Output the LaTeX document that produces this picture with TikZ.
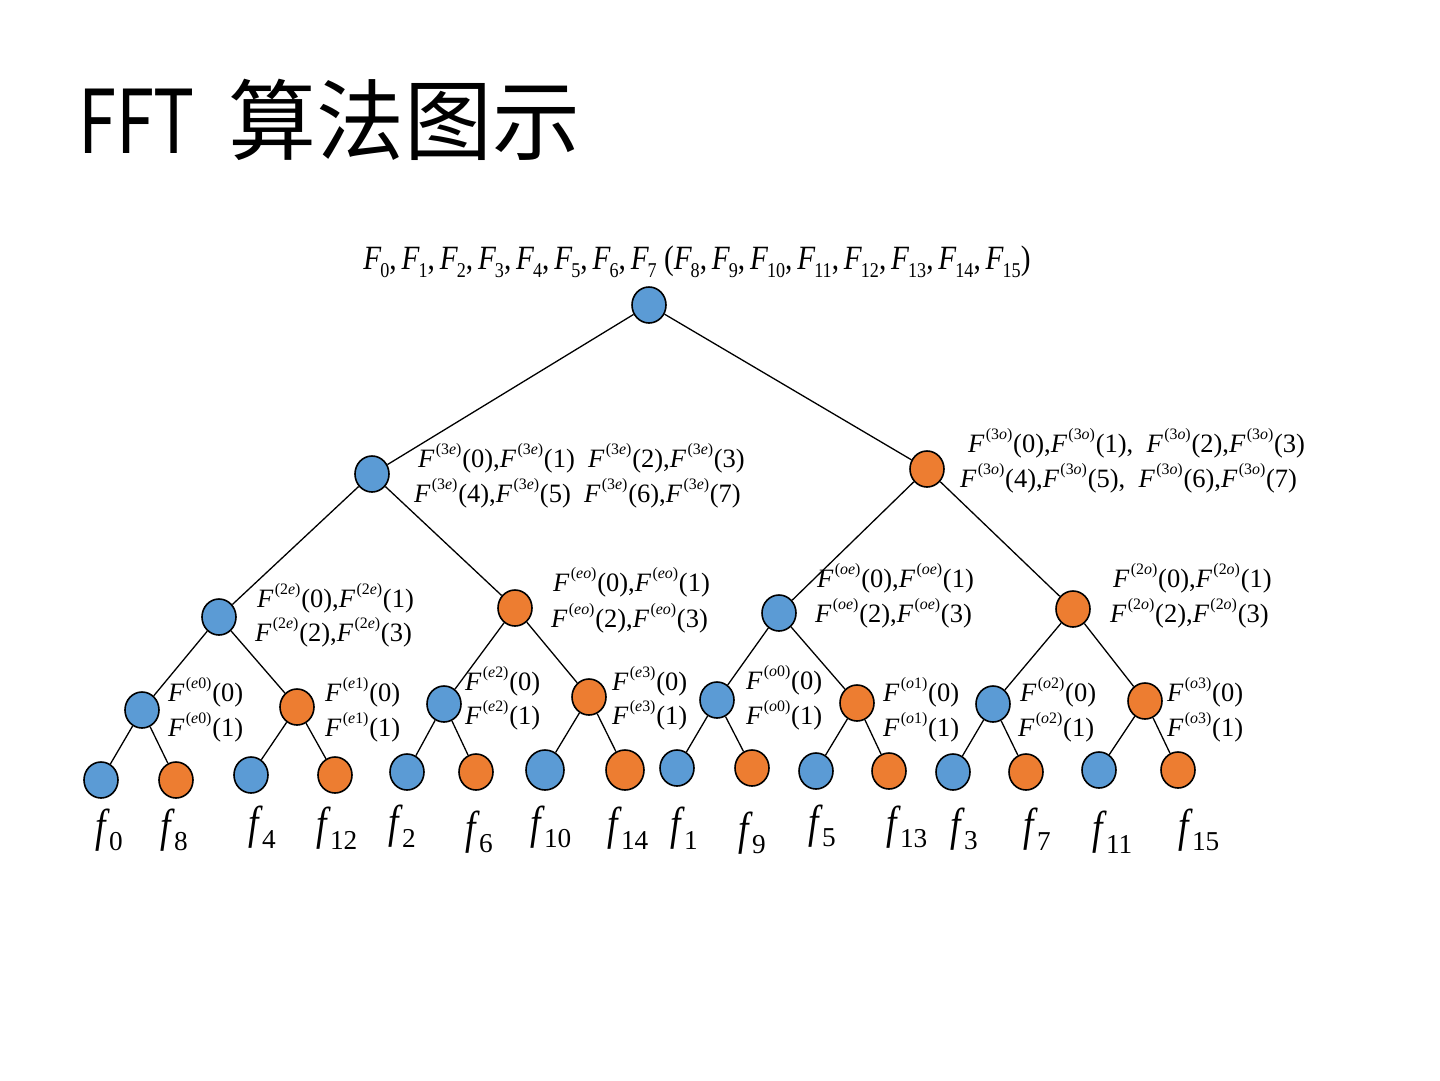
\documentclass[tikz,border=0pt]{standalone}
\usepackage{fontspec}
\setmainfont{Liberation Serif}
\newfontfamily\cjk{Noto Sans CJK SC}
\usepackage{graphicx}
\usetikzlibrary{shapes.geometric}
\definecolor{nblue}{HTML}{5B9BD5}
\definecolor{norange}{HTML}{ED7D31}
\newcommand\Fu[2]{\textit{F}\kern0.05em\raisebox{0.5em}{\scalebox{0.6}{(#1)}}\kern0.03em(#2)}
\newcommand\Fd[1]{\textit{F}\kern-0.04em\raisebox{-0.22em}{\scalebox{0.62}{#1}}}
\newcommand\fd[1]{\scalebox{0.85}[1.05]{\textit{f}}\kern-0.02em\raisebox{-0.22em}{\scalebox{0.62}{#1}}}
\newcommand\lte{\textit{e}}
\newcommand\lto{\textit{o}}
\begin{document}
\begin{tikzpicture}[x=1pt,y=-1pt,
  bn/.style={ellipse, draw=black, line width=1.6pt, fill=nblue, minimum width=34pt, minimum height=36pt, inner sep=0pt},
  on/.style={bn, fill=norange},
  edge/.style={line width=1.3pt},
  lab/.style={font=\fontsize{26.5}{30}\selectfont, inner sep=0pt, anchor=west},
  flab/.style={font=\fontsize{44}{48}\selectfont, inner sep=0pt, anchor=west}]
\useasboundingbox (0,0) rectangle (1440,1080);
% title
\node[anchor=base west, inner sep=0pt, font=\cjk\fontsize{88}{92}\selectfont] (title) at (78,153) {\scalebox{0.78}[1]{FFT}\hspace{14pt} 算法图示};
% top label
\node[font=\fontsize{34}{38}\selectfont, inner sep=0pt] (toplab) at (697,262) {\scalebox{0.86}[1]{\Fd{0},\,\Fd{1},\,\Fd{2},\,\Fd{3},\,\Fd{4},\,\Fd{5},\,\Fd{6},\,\Fd{7} (\Fd{8},\,\Fd{9},\,\Fd{10},\,\Fd{11},\,\Fd{12},\,\Fd{13},\,\Fd{14},\,\Fd{15})}};
% nodes
\node[bn] (r) at (649,305) {};
\node[bn] (a) at (372,474) {};
\node[on] (b) at (927,469) {};
\node[bn] (aa) at (219,617) {};
\node[on] (ab) at (515,608) {};
\node[bn] (ba) at (779,613) {};
\node[on] (bb) at (1073,609) {};
\node[bn] (n1) at (142,710) {};
\node[on] (n2) at (297,707) {};
\node[bn] (n3) at (444,704) {};
\node[on] (n4) at (589,697) {};
\node[bn] (n5) at (717,700) {};
\node[on] (n6) at (857,703) {};
\node[bn] (n7) at (993,704) {};
\node[on] (n8) at (1145,701) {};
\node[bn] (l0) at (101,780) {};
\node[on] (l8) at (176,780) {};
\node[bn] (l4) at (251,775) {};
\node[on] (l12) at (335,775) {};
\node[bn] (l2) at (407,772) {};
\node[on] (l6) at (476,772) {};
\node[bn, minimum width=38pt, minimum height=40pt] (l10) at (545,770) {};
\node[on, minimum width=38pt, minimum height=40pt] (l14) at (625,770) {};
\node[bn] (l1) at (677,768) {};
\node[on] (l9) at (752,768) {};
\node[bn] (l5) at (816,771) {};
\node[on] (l13) at (889,771) {};
\node[bn] (l3) at (953,772) {};
\node[on] (l7) at (1026,772) {};
\node[bn] (l11) at (1099,770) {};
\node[on] (l15) at (1178,770) {};
% edges
\foreach \p/\c in {r/a,r/b,a/aa,a/ab,b/ba,b/bb,aa/n1,aa/n2,ab/n3,ab/n4,ba/n5,ba/n6,bb/n7,bb/n8,
  n1/l0,n1/l8,n2/l4,n2/l12,n3/l2,n3/l6,n4/l10,n4/l14,n5/l1,n5/l9,n6/l5,n6/l13,n7/l3,n7/l7,n8/l11,n8/l15}
  \draw[edge] (\p) -- (\c);
% level 1 labels
\node[lab] (a1) at (418,458) {\Fu{3\lte}{0},\Fu{3\lte}{1}\enspace\Fu{3\lte}{2},\Fu{3\lte}{3}};
\node[lab] (a2) at (414,493) {\Fu{3\lte}{4},\Fu{3\lte}{5}\enspace\Fu{3\lte}{6},\Fu{3\lte}{7}};
\node[lab] (b1) at (968,443) {\Fu{3\lto}{0},\Fu{3\lto}{1},\enspace\Fu{3\lto}{2},\Fu{3\lto}{3}};
\node[lab] (b2) at (960,478) {\Fu{3\lto}{4},\Fu{3\lto}{5},\enspace\Fu{3\lto}{6},\Fu{3\lto}{7}};
% level 2 labels
\node[lab] (aa1) at (257,598) {\Fu{2\lte}{0},\Fu{2\lte}{1}};
\node[lab] (aa2) at (255,632) {\Fu{2\lte}{2},\Fu{2\lte}{3}};
\node[lab] (ab1) at (553,582) {\Fu{\lte\lto}{0},\Fu{\lte\lto}{1}};
\node[lab] (ab2) at (551,618) {\Fu{\lte\lto}{2},\Fu{\lte\lto}{3}};
\node[lab] (ba1) at (817,578) {\Fu{\lto\lte}{0},\Fu{\lto\lte}{1}};
\node[lab] (ba2) at (815,613) {\Fu{\lto\lte}{2},\Fu{\lto\lte}{3}};
\node[lab] (bb1) at (1113,578) {\Fu{2\lto}{0},\Fu{2\lto}{1}};
\node[lab] (bb2) at (1110,613) {\Fu{2\lto}{2},\Fu{2\lto}{3}};
% level 3 labels
\node[lab] (m1a) at (168,692) {\Fu{\lte0}{0}};
\node[lab] (m1b) at (168,727) {\Fu{\lte0}{1}};
\node[lab] (m2a) at (325,692) {\Fu{\lte1}{0}};
\node[lab] (m2b) at (325,727) {\Fu{\lte1}{1}};
\node[lab] (m3a) at (465,681) {\Fu{\lte2}{0}};
\node[lab] (m3b) at (465,715) {\Fu{\lte2}{1}};
\node[lab] (m4a) at (612,681) {\Fu{\lte3}{0}};
\node[lab] (m4b) at (612,715) {\Fu{\lte3}{1}};
\node[lab] (m5a) at (746,680) {\Fu{\lto0}{0}};
\node[lab] (m5b) at (746,715) {\Fu{\lto0}{1}};
\node[lab] (m6a) at (883,692) {\Fu{\lto1}{0}};
\node[lab] (m6b) at (883,727) {\Fu{\lto1}{1}};
\node[lab] (m7a) at (1020,692) {\Fu{\lto2}{0}};
\node[lab] (m7b) at (1018,727) {\Fu{\lto2}{1}};
\node[lab] (m8a) at (1167,692) {\Fu{\lto3}{0}};
\node[lab] (m8b) at (1167,727) {\Fu{\lto3}{1}};
% leaf labels
\node[flab] (t0) at (95,830) {\fd{0}};
\node[flab] (t8) at (160,830) {\fd{8}};
\node[flab] (t4) at (248,827) {\fd{4}};
\node[flab] (t12) at (316,828) {\fd{12}};
\node[flab] (t2) at (388,826) {\fd{2}};
\node[flab] (t6) at (465,832) {\fd{6}};
\node[flab] (t10) at (530,827) {\fd{10}};
\node[flab] (t14) at (607,828) {\fd{14}};
\node[flab] (t1) at (670,828) {\fd{1}};
\node[flab] (t9) at (738,833) {\fd{9}};
\node[flab] (t5) at (808,826) {\fd{5}};
\node[flab] (t13) at (886,827) {\fd{13}};
\node[flab] (t3) at (950,829) {\fd{3}};
\node[flab] (t7) at (1023,829) {\fd{7}};
\node[flab] (t11) at (1092,832) {\fd{11}};
\node[flab] (t15) at (1178,830) {\fd{15}};
\end{tikzpicture}
\end{document}
